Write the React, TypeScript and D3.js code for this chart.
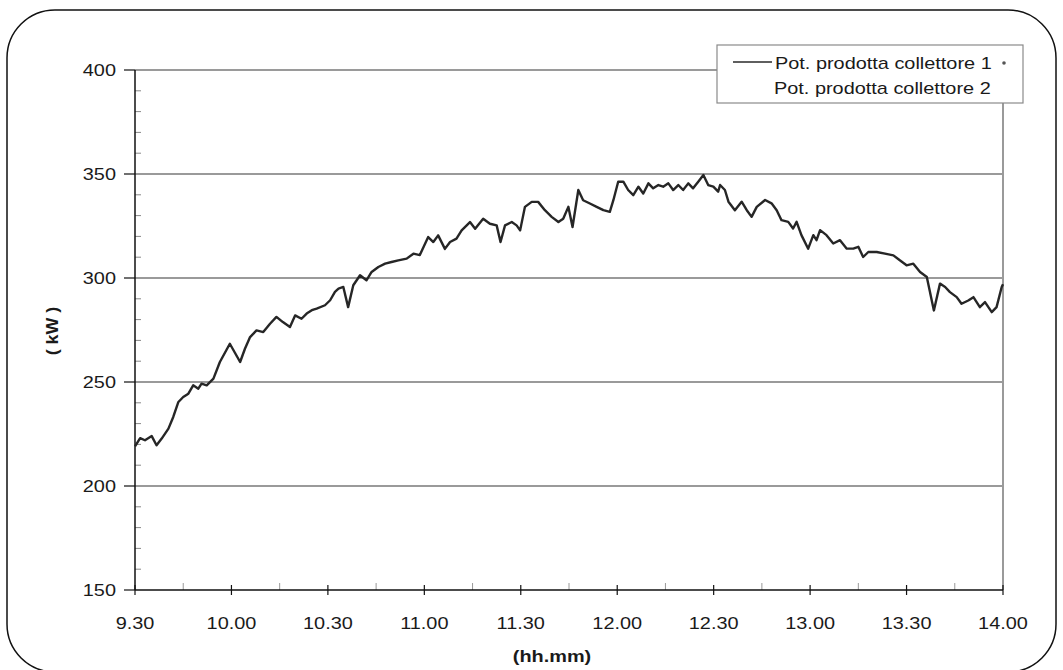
import React from "react";
import * as d3 from "d3";

// Minutes after 09:30 and produced power (kW), collector 1
const minutes0930_1100 = [
  0, 1.6, 3.1, 5.2, 6.7, 8.3, 10.4, 11.9, 13.5, 15, 16.6, 18.1, 19.7, 20.7, 22.3, 24.4,
  26.4, 29.5, 32.7, 34.2, 35.8, 37.8, 39.9, 42, 44, 46, 48.2, 49.8, 51.8, 53.4, 55, 56.5,
  59.1, 60.7, 62.2, 63.3, 64.8, 66.3, 67.9, 70, 72, 73.6, 75.7, 77.8, 79.8, 81.9, 84.5, 86.6,
  88.6,
];
const kw0930_1100 = [
  219, 223, 222, 224, 219.6, 222.8, 227.6, 233.2, 240.4, 242.8, 244.4, 248.4, 246.8, 249.2, 248.4, 251.6,
  259.6, 268.4, 259.6, 266, 271.6, 274.8, 274, 278, 281.3, 278.8, 276.4, 282, 280.4, 282.9, 284.5, 285.3,
  286.9, 289.3, 293.3, 294.9, 295.7, 286, 296.5, 301.3, 298.9, 302.9, 305.3, 306.9, 307.7, 308.5, 309.3, 311.7,
  311,
];

const minutes1100_1230 = [
  91.2, 92.8, 94.3, 96.4, 98, 100, 101.6, 104.2, 105.8, 108.3, 110.4, 112.5, 113.7, 115.1, 117.2, 118.7,
  119.8, 121.3, 123.4, 125.4, 127.5, 129.6, 131.7, 133.2, 134.8, 136.1, 137.9, 139.4, 141.5, 143.6, 145.7, 147.7,
  148.8, 150.3, 151.9, 153.4, 155, 156.6, 158.1, 159.7, 161.2, 162.8, 164.3, 165.9, 167.4, 169, 170.5, 172.1,
  173.6, 175.2, 176.8, 178.3, 179.9,
];
const kw1100_1230 = [
  319.7, 317.3, 320.5, 314, 317.3, 318.9, 322.9, 326.9, 323.7, 328.5, 326.1, 325.3, 317.3, 325.3, 326.9, 325.3,
  322.9, 334.2, 336.6, 336.6, 332.6, 329.4, 326.9, 328.5, 334.2, 324.5, 342.3, 337.4, 335.8, 334.2, 332.6, 331.8,
  337.4, 346.3, 346.3, 342.3, 339.8, 343.9, 340.6, 345.5, 343.1, 344.7, 343.9, 345.5, 342.3, 344.7, 342.3, 345.5,
  343.1, 346.3, 349.5, 344.7, 343.9,
];

const minutes1230_1400 = [
  181.4, 182, 183.5, 184.6, 186.6, 188.7, 190.3, 191.8, 193.4, 196, 198, 199.6, 201.1, 203.2, 204.7, 205.8,
  207.3, 209.4, 211, 212, 213.1, 215.1, 217.2, 219.3, 221.4, 223.4, 225, 226.5, 228.1, 230.7, 233.3, 235.9,
  237.9, 240, 242.1, 244.2, 246.3, 248.5, 250.4, 252, 253.5, 255.6, 257.1, 259.2, 260.8, 262.8, 264.4, 266.5,
  268, 269.6, 270,
];
const kw1230_1400 = [
  341.5, 344.7, 342.3, 336.7, 332.6, 336.7, 332.6, 329.4, 334.2, 337.5, 335.9, 332.6, 327.8, 327, 323.8, 327,
  320.6, 314.1, 320.6, 318.2, 323, 320.6, 316.6, 318.2, 314.1, 314.1, 315, 310.1, 312.5, 312.5, 311.7, 310.9,
  308.5, 306.1, 306.9, 302.9, 300.5, 284.4, 297.3, 295.7, 293.2, 290.8, 287.6, 289.2, 290.8, 286, 288.4, 283.6,
  286, 295.7, 297,
];

const xTickMinutes = [0, 30, 60, 90, 120, 150, 180, 210, 240, 270];
const xTickLabels = ["9.30", "10.00", "10.30", "11.00", "11.30", "12.00", "12.30", "13.00", "13.30", "14.00"];
const yTicks = [150, 200, 250, 300, 350, 400];
const legendLabels = ["Pot. prodotta collettore 1", "Pot. prodotta collettore 2"];

const FONT = "'Liberation Sans', Arial, sans-serif";

type TxtProps = {
  x: number;
  y: number;
  anchor?: "start" | "middle" | "end";
  bold?: boolean;
  size?: number;
  sx?: number;
  rotate?: number;
  children: React.ReactNode;
};

// Text slightly widened horizontally
function Txt({ x, y, anchor = "start", bold = false, size = 17, sx = 1.17, rotate = 0, children }: TxtProps) {
  return (
    <text
      transform={`translate(${x},${y}) rotate(${rotate}) scale(${sx},1)`}
      textAnchor={anchor}
      fontFamily={FONT}
      fontSize={size}
      fontWeight={bold ? "bold" : "normal"}
      fill="#1a1a1a"
    >
      {children}
    </text>
  );
}

export default function App() {
  const W = 1063;
  const H = 670;
  const left = 135;
  const right = 1003;
  const top = 70;
  const bottom = 590;

  const x = d3.scaleLinear().domain([0, 270]).range([left, right]);
  const y = d3.scaleLinear().domain([150, 400]).range([bottom, top]);

  const times = [...minutes0930_1100, ...minutes1100_1230, ...minutes1230_1400];
  const values = [...kw0930_1100, ...kw1100_1230, ...kw1230_1400];
  const points: [number, number][] = times.map((t, i) => [t, values[i]]);

  const line = d3
    .line<[number, number]>()
    .x((d) => x(d[0]))
    .y((d) => y(d[1]));

  const minorY = d3.range(150, 401, 10).filter((v) => v % 50 !== 0);
  const minorX = d3.range(15, 270, 30);

  return (
    <svg
      width={W}
      height={H}
      style={{ position: "absolute", left: 0, top: 0, background: "#fff" }}
    >
      <defs>
        <filter id="soft" x="-5%" y="-5%" width="110%" height="110%">
          <feGaussianBlur stdDeviation="0.5" />
        </filter>
      </defs>

      {/* rounded outer frame */}
      <rect x={7} y={10} width={1049} height={662} rx={48} ry={48} fill="#fff" stroke="#111" strokeWidth={1.5} />

      {/* horizontal gridlines */}
      {yTicks
        .filter((v) => v !== 150)
        .map((v) => (
          <line key={v} x1={left} x2={right} y1={y(v)} y2={y(v)} stroke="#9a9a9a" strokeWidth={2} />
        ))}
      {/* right border of the plot area */}
      <line x1={right} x2={right} y1={top} y2={bottom} stroke="#9a9a9a" strokeWidth={2} />

      {/* minor ticks */}
      {minorY.map((v) => (
        <line key={"my" + v} x1={left} x2={left + 6} y1={y(v)} y2={y(v)} stroke="#888" strokeWidth={1} />
      ))}
      {minorX.map((t) => (
        <line key={"mx" + t} x1={x(t)} x2={x(t)} y1={bottom - 7} y2={bottom} stroke="#999" strokeWidth={1} />
      ))}

      {/* axes */}
      <line x1={left} x2={left} y1={top} y2={bottom} stroke="#111" strokeWidth={1.5} />
      <line x1={left} x2={right} y1={bottom} y2={bottom} stroke="#111" strokeWidth={1.5} />
      {yTicks.map((v) => (
        <line key={"ty" + v} x1={left - 11} x2={left} y1={y(v)} y2={y(v)} stroke="#111" strokeWidth={1.2} />
      ))}
      {xTickMinutes.map((t) => (
        <line key={"tx" + t} x1={x(t)} x2={x(t)} y1={bottom - 5} y2={bottom + 5} stroke="#111" strokeWidth={1.2} />
      ))}

      {/* data line */}
      <path d={line(points) ?? ""} fill="none" stroke="#262626" strokeWidth={2.4} strokeLinejoin="round" filter="url(#soft)" />

      {/* tick labels */}
      {yTicks.map((v) => (
        <Txt key={"ly" + v} x={116} y={y(v) + 6} anchor="end">
          {v}
        </Txt>
      ))}
      {xTickMinutes.map((t, i) => (
        <Txt key={"lx" + t} x={x(t)} y={629} anchor="middle">
          {xTickLabels[i]}
        </Txt>
      ))}

      {/* axis titles */}
      <Txt x={552} y={662} anchor="middle" bold>
        (hh.mm)
      </Txt>
      <Txt x={58} y={331} anchor="middle" bold rotate={-90} sx={1.05}>
        ( kW )
      </Txt>

      {/* legend */}
      <rect x={717} y={45} width={306} height={58} fill="#fff" stroke="#8a8a8a" strokeWidth={1.2} />
      <line x1={733} x2={772} y1={62} y2={62} stroke="#2a2a2a" strokeWidth={1.5} />
      <Txt x={775} y={69}>{legendLabels[0]}</Txt>
      <circle cx={1004} cy={63} r={1.8} fill="#555" />
      <Txt x={774} y={94}>{legendLabels[1]}</Txt>
    </svg>
  );
}
